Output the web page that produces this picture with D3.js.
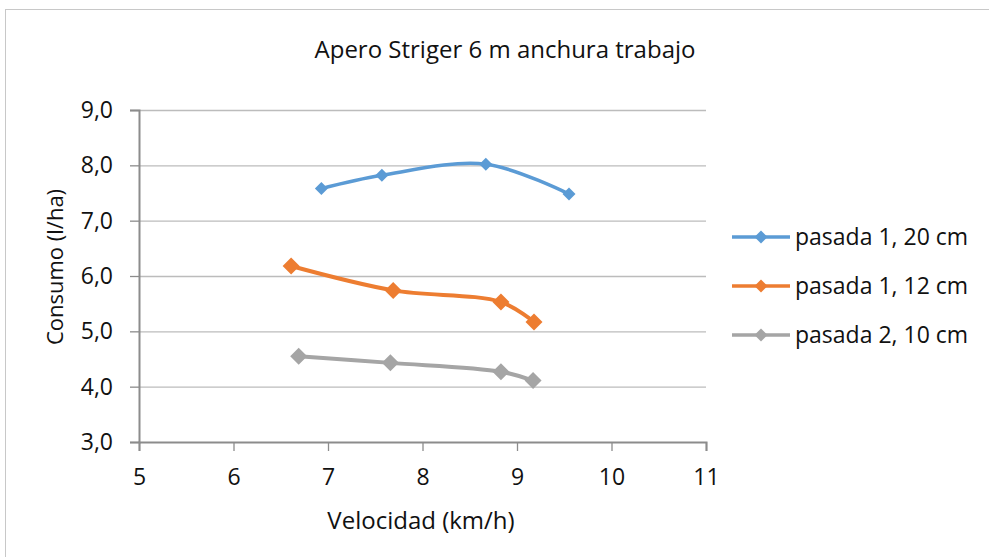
<!DOCTYPE html>
<html>
  <head>
    <style>
      body {margin: 0; background: #fff;}
      * {font-family: "Open Sans", sans-serif;}
    </style>
    <script src="https://d3js.org/d3.v7.min.js"></script>
  </head>
  <body>
    <div id="chart"></div>
    <script>
      const seriesNames = ["pasada 1, 20 cm", "pasada 1, 12 cm", "pasada 2, 10 cm"]
      const seriesColors = ["#5B9BD5", "#ED7D31", "#A5A5A5"]
      const vel20 = [6.93, 7.57, 8.67, 9.55],  cons20 = [7.58, 7.82, 8.02, 7.48]
      const vel12 = [6.61, 7.69, 8.83, 9.18],  cons12 = [6.18, 5.74, 5.53, 5.17]
      const vel10 = [6.69, 7.66, 8.83, 9.17],  cons10 = [4.55, 4.43, 4.27, 4.11]
      const xTicks = [5, 6, 7, 8, 9, 10, 11]
      const yTicks = [3, 4, 5, 6, 7, 8, 9]

      const series = [
        {name: seriesNames[0], color: seriesColors[0], r: 6.5, w: 3.5, pts: vel20.map((v, i) => [v, cons20[i]])},
        {name: seriesNames[1], color: seriesColors[1], r: 8.5, w: 4, pts: vel12.map((v, i) => [v, cons12[i]])},
        {name: seriesNames[2], color: seriesColors[2], r: 8.5, w: 4, pts: vel10.map((v, i) => [v, cons10[i]])}
      ]

      var w = 989, h = 557
      var plot = {left: 139, right: 706, top: 110, bottom: 442}

      var svg = d3.select("#chart").append("svg")
        .attr("width", w).attr("height", h)

      // chart frame
      svg.append("rect")
        .attr("x", 5.5).attr("y", 9.5)
        .attr("width", 1000).attr("height", 600)
        .style("fill", "none").style("stroke", "#c8c8c8")

      var x = d3.scaleLinear().domain([5, 11]).range([plot.left, plot.right])
      var y = d3.scaleLinear().domain([3, 9]).range([plot.bottom, plot.top])

      // gridlines
      svg.append("g").selectAll("line")
        .data(yTicks.slice(1))
        .enter().append("line")
          .attr("x1", plot.left).attr("x2", plot.right)
          .attr("y1", d => y(d) + 0.5).attr("y2", d => y(d) + 0.5)
          .style("stroke", "#bcbcbc").style("stroke-width", 1.3)

      var yAxis = svg.append("g")
        .attr("transform", "translate(" + plot.left + ",0)")
        .call(d3.axisLeft(y).tickValues(yTicks).tickSize(9).tickPadding(17)
          .tickFormat(d => d3.format(".1f")(d).replace(".", ",")))
      var xAxis = svg.append("g")
        .attr("transform", "translate(0," + plot.bottom + ")")
        .call(d3.axisBottom(x).tickValues(xTicks).tickSize(9).tickPadding(18)
          .tickFormat(d3.format("d")))

      ;[yAxis, xAxis].forEach(a => {
        a.select(".domain").style("stroke", "#8c8c8c").style("stroke-width", 2)
        a.selectAll(".tick line").style("stroke", "#8c8c8c").style("stroke-width", 1.3)
        a.selectAll("text").style("font-size", "23px").style("fill", "#111")
      })

      // series
      var line = d3.line()
        .x(d => x(d[0])).y(d => y(d[1]))
        .curve(d3.curveCatmullRom.alpha(0.5))

      var diamond = r => "M0," + (-r) + "L" + r + ",0L0," + r + "L" + (-r) + ",0Z"

      series.forEach(s => {
        svg.append("path")
          .datum(s.pts)
          .attr("d", line)
          .style("fill", "none")
          .style("stroke", s.color)
          .style("stroke-width", s.w)
          .style("stroke-linejoin", "round")
        svg.append("g").selectAll("path")
          .data(s.pts)
          .enter().append("path")
            .attr("transform", d => "translate(" + x(d[0]) + "," + y(d[1]) + ")")
            .attr("d", diamond(s.r))
            .style("fill", s.color)
      })

      // title + axis titles
      svg.append("text")
        .attr("x", 505).attr("y", 58)
        .attr("text-anchor", "middle")
        .style("font-size", "24px").style("fill", "#111")
        .text("Apero Striger 6 m anchura trabajo")

      svg.append("text")
        .attr("x", 421).attr("y", 529)
        .attr("text-anchor", "middle")
        .style("font-size", "24px").style("fill", "#111")
        .text("Velocidad (km/h)")

      svg.append("text")
        .attr("transform", "translate(63,267) rotate(-90)")
        .attr("text-anchor", "middle")
        .style("font-size", "22px").style("fill", "#111")
        .text("Consumo (l/ha)")

      // legend
      var legend = svg.append("g").selectAll("g")
        .data(series)
        .enter().append("g")
          .attr("transform", (d, i) => "translate(732," + (237 + i * 49) + ")")

      legend.append("line")
        .attr("x1", 0).attr("x2", 58)
        .style("stroke", d => d.color).style("stroke-width", 3.5)
      legend.append("path")
        .attr("transform", "translate(29,0)")
        .attr("d", diamond(6.5))
        .style("fill", d => d.color)
      legend.append("text")
        .attr("x", 63).attr("y", 8)
        .style("font-size", "23px").style("fill", "#111")
        .text(d => d.name)
    </script>
  </body>
</html>
